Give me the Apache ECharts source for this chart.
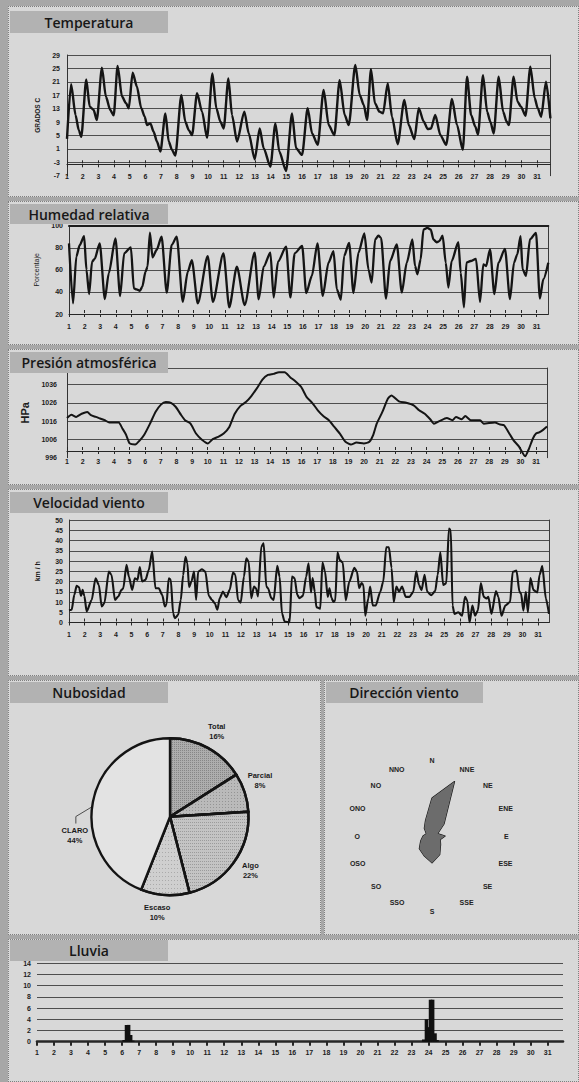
<!DOCTYPE html>
<html><head><meta charset="utf-8"><title>Datos meteorológicos</title>
<script src="https://cdn.jsdelivr.net/npm/echarts@6.0.0/dist/echarts.min.js"></script>
<style>
html,body{margin:0;padding:0;}
body{width:579px;height:1082px;background:#a7a7a7;position:relative;overflow:hidden}
.p{position:absolute;background:#d8d8d8;box-sizing:border-box;border:1px dotted #7f7f7f}
#c{position:absolute;left:0;top:0;width:579px;height:1082px}
</style></head><body>
<div class="p" style="left:8px;top:6px;width:571px;height:191px"></div>
<div class="p" style="left:8px;top:201px;width:571px;height:144px"></div>
<div class="p" style="left:8px;top:349px;width:571px;height:136px"></div>
<div class="p" style="left:8px;top:489px;width:571px;height:187px"></div>
<div class="p" style="left:8px;top:680px;width:313px;height:255px"></div>
<div class="p" style="left:324px;top:680px;width:255px;height:255px"></div>
<div class="p" style="left:8px;top:939px;width:571px;height:143px"></div>
<div id="c"></div>
<script>
// ---------- DATA ----------
const dayTicks = [1,2,3,4,5,6,7,8,9,10,11,12,13,14,15,16,17,18,19,20,21,22,23,24,25,26,27,28,29,30,31];

// Temperatura (ºC) : [día, valor]
const temperatura = [[1.0,4],[1.26,20.3],[1.55,11],[1.75,6.6],[1.91,4.6],[2.23,21.7],[2.45,13.6],[2.7,12.6],[2.9,9.6],
[3.23,25.2],[3.48,16.6],[3.76,12.6],[3.98,11],[4.23,25.7],[4.51,16.6],[4.77,14.6],[4.94,13.1],[5.19,23.7],[5.46,19.6],
[5.74,13.1],[5.96,10.6],[6.1,8.1],[6.32,8.6],[6.53,6.1],[6.74,3.2],[6.96,0.2],[7.28,11.6],[7.49,3.2],[7.7,0.7],[7.91,-1],
[8.3,17.1],[8.55,9.1],[8.77,6.6],[8.98,5.1],[9.3,17.6],[9.62,12.1],[9.94,4.3],[10.28,23.5],[10.53,13.1],[10.79,9.1],
[11.0,7.1],[11.3,22],[11.53,11.1],[11.85,3.2],[12.32,12.1],[12.6,5.6],[12.98,-2.1],[13.3,7.1],[13.55,1.2],[13.98,-4.3],
[14.3,8.6],[14.55,0.2],[14.98,-5.6],[15.36,11.6],[15.62,1.2],[16.0,-0.8],[16.36,13.1],[16.64,5.6],[17.0,2.2],[17.38,18.6],
[17.7,8.1],[18.06,5.1],[18.4,21.5],[18.72,11.1],[18.98,8.1],[19.4,26],[19.68,17.1],[19.94,14.1],[20.15,9.6],[20.4,24.8],
[20.65,14.6],[20.94,12.1],[21.17,11.6],[21.47,20.5],[21.74,10.6],[22.1,2.4],[22.53,15.6],[22.81,8.1],[23.17,3.9],
[23.45,13.1],[23.77,9.1],[24.02,6.9],[24.23,7.1],[24.5,11.1],[24.83,5.1],[25.2,2.2],[25.57,15.9],[25.89,8.1],[26.26,0.7],
[26.53,22.5],[26.79,11.1],[27.06,7.6],[27.23,5.3],[27.55,23],[27.81,12.1],[28.02,9.1],[28.23,5.6],[28.55,22.5],[28.83,12.1],
[29.06,9.1],[29.2,8.1],[29.5,22.5],[29.75,15.1],[29.97,13.6],[30.26,10.9],[30.57,25.5],[30.85,16.1],[31.04,13.1],
[31.26,10.6],[31.57,21],[31.85,10.1]];

// Humedad relativa (%)
const humedad = [[1.0,84],[1.26,29.6],[1.47,72],[1.69,82.5],[1.97,90.6],[2.12,60],[2.29,38],[2.48,67.4],[2.65,70],[2.97,84],
[3.3,33.6],[3.55,56.8],[3.98,88.5],[4.28,36.3],[4.54,75],[4.97,80.4],[5.16,43.2],[5.33,42.3],[5.55,41],[5.7,44.7],[5.91,58.3],
[6.04,62.9],[6.19,93.7],[6.36,71.3],[6.62,78],[6.94,90],[7.27,39.3],[7.59,82.5],[7.91,90],[8.3,31.1],[8.62,58.3],[8.88,68.9],
[9.26,29.6],[9.9,72.5],[10.23,31.1],[10.91,75],[11.28,26],[11.77,62.9],[12.27,28.1],[12.91,75.5],[13.17,33.3],[13.49,62.9],
[13.92,75.5],[14.13,35],[14.41,67.4],[14.93,81],[15.2,35],[15.48,75],[15.96,81.6],[16.22,39],[16.58,54.5],[16.94,84],
[17.28,36.5],[17.65,66.5],[17.97,77],[18.18,42.5],[18.44,33],[18.65,72.5],[18.97,84.5],[19.25,39],[19.57,75.5],[19.95,93],
[20.21,60.5],[20.42,48.5],[20.64,87.5],[20.85,91],[21.02,89],[21.34,34],[21.6,68],[22.03,83],[22.35,39.5],[22.67,66.5],
[23.03,87.5],[23.2,63.5],[23.35,56],[23.56,69.5],[23.74,96.5],[23.99,98],[24.21,96.5],[24.38,87.5],[24.59,85],[24.76,86],
[24.97,91],[25.17,66.5],[25.34,44],[25.55,68],[25.98,85],[26.13,57.5],[26.34,26],[26.5,66.5],[26.77,68],[27.11,70],
[27.37,31],[27.58,65],[27.76,63.5],[28.01,78.5],[28.29,38],[28.55,66.5],[28.97,79],[29.29,33.5],[29.55,66.5],[29.76,74],
[29.97,90.5],[30.1,60.5],[30.32,54.5],[30.57,87.5],[30.96,93.5],[31.21,34],[31.43,51.5],[31.75,66.5]];

// Presión atmosférica (hPa)
const presion = [[1.00,1017.7],[1.28,1019.5],[1.59,1018.3],[1.94,1020],[2.30,1021],[2.53,1019.2],[2.84,1018.3],[3.12,1017.4],
[3.41,1016.5],[3.71,1015.2],[4.30,1015.2],[4.54,1012],[4.77,1008.7],[5.01,1003.8],[5.36,1003.2],[5.67,1005.6],[5.95,1008.7],
[6.31,1014.6],[6.66,1021],[7.01,1025],[7.32,1026.4],[7.65,1026],[7.96,1023.7],[8.31,1019.2],[8.55,1016.5],[8.90,1014.6],
[9.25,1009.2],[9.61,1006],[10.01,1003.8],[10.32,1006.1],[10.67,1007.4],[11.02,1009.2],[11.38,1012.8],[11.73,1020],
[12.08,1024.2],[12.44,1026.4],[12.79,1029.7],[13.15,1034],[13.50,1038.7],[13.85,1041.2],[14.21,1041.8],[14.56,1042.7],
[14.92,1042.7],[15.27,1040],[15.62,1037.6],[15.98,1034.6],[16.33,1029.1],[16.68,1026],[17.04,1021.9],[17.39,1018.8],
[17.75,1016.5],[18.10,1012.8],[18.45,1009.2],[18.81,1004.7],[19.16,1003.2],[19.51,1004.3],[19.99,1003.8],[20.34,1004.7],
[20.58,1008.3],[20.81,1014.6],[21.17,1021],[21.52,1028.2],[21.75,1030],[22.23,1026.8],[22.70,1026],[23.17,1024.6],
[23.52,1021.9],[23.88,1020],[24.23,1017],[24.47,1014.6],[24.82,1016],[25.29,1017.7],[25.65,1016.5],[25.88,1018.3],
[26.24,1017],[26.47,1018.8],[26.83,1016.5],[27.42,1016.5],[27.65,1014.6],[28.36,1015.2],[28.71,1014.1],[28.95,1013.7],
[29.25,1009.8],[29.55,1005.6],[29.9,1002.2],[30.3,996.8],[30.55,1001],[30.8,1006.5],[31.0,1009.2],[31.2,1009.8],
[31.45,1011.2],[31.7,1013]];

// Velocidad viento (km/h)
const viento = [[1.0,6],[1.17,6.2],[1.34,13.5],[1.49,17.9],[1.64,17.2],[1.77,13],[1.87,15.9],[1.98,13],[2.13,5.4],[2.45,11],
[2.7,21.6],[2.91,18.3],[3.09,7.8],[3.26,9.4],[3.55,24.8],[3.72,23.2],[3.94,11],[4.15,12.7],[4.36,15.9],[4.47,16.7],[4.68,28.1],
[4.83,22.4],[5.04,15.9],[5.21,21.6],[5.38,20.8],[5.53,27],[5.68,20],[5.89,20.8],[6.1,25.6],[6.32,34.6],[6.53,16.7],[6.74,16.7],
[6.96,13.5],[7.13,7.8],[7.23,8.6],[7.38,21.6],[7.51,20.8],[7.66,4.5],[7.77,2.1],[7.98,3.7],[8.15,11],[8.3,23.2],[8.45,32.1],
[8.57,28.9],[8.68,17.2],[8.83,20],[9.0,24.8],[9.13,11],[9.26,24.8],[9.51,26],[9.72,24.8],[9.94,13],[10.15,11],[10.32,9.4],
[10.49,6.2],[10.64,11.9],[10.85,15.1],[11.06,12.3],[11.28,15.9],[11.49,24.4],[11.64,23.2],[11.81,11],[11.98,9.7],[12.19,22.4],
[12.34,31.3],[12.49,29.7],[12.66,11.9],[12.83,17.5],[12.96,16.7],[13.09,12.7],[13.3,37],[13.45,38.6],[13.62,17.5],[13.73,16.7],
[13.94,11.9],[14.09,11],[14.32,27.6],[14.47,22.4],[14.62,4.5],[14.79,0.5],[15.11,0],[15.26,22.4],[15.43,21.6],[15.6,13.5],
[15.74,11.9],[15.96,13],[16.17,22.4],[16.32,28.9],[16.48,14.7],[16.58,21.7],[16.72,15],[16.82,7.5],[17.07,6.7],[17.21,29.2],
[17.37,25],[17.55,12.5],[17.66,16.7],[17.79,12],[17.91,10],[18.03,10.8],[18.17,34.2],[18.33,30.3],[18.51,29.2],[18.7,10.8],
[18.93,20],[19.25,26.7],[19.42,24.7],[19.56,16.7],[19.71,19.2],[19.83,18.3],[19.95,3.3],[20.14,11.7],[20.26,17.5],[20.43,8.3],
[20.62,8.3],[20.91,15],[21.1,20],[21.29,36.7],[21.46,36.7],[21.63,26.7],[21.77,10],[21.94,17.5],[22.11,15],[22.3,17.5],
[22.54,12.5],[22.78,12.5],[23.02,15],[23.21,25],[23.39,18.3],[23.55,15.8],[23.74,23.3],[23.91,15],[24.17,13.3],[24.42,15.3],
[24.58,23.3],[24.75,34.2],[24.93,18.3],[25.13,19.2],[25.3,45.8],[25.42,45],[25.53,8.3],[25.65,4.2],[25.9,5],[26.14,3.3],
[26.33,12.5],[26.47,10.8],[26.62,0],[26.8,8.3],[26.97,3.3],[27.15,5.8],[27.34,19.2],[27.53,12.5],[27.7,11.7],[27.82,12.5],
[28.02,4.2],[28.31,15.3],[28.46,12.5],[28.66,3.3],[28.91,8.3],[29.21,10],[29.38,24.7],[29.62,25.3],[29.81,15],[29.91,14.2],
[30.06,5.8],[30.22,15],[30.35,5],[30.51,21.7],[30.71,15.8],[30.95,14.7],[31.1,23.3],[31.27,27.5],[31.5,11.7],[31.7,4.2]];

// Lluvia (mm)
const lluvia = [[6.12,0.3],[6.26,3],[6.38,3],[6.5,1.2],[6.62,0.2],[23.72,0.4],[23.88,4],[24.0,2.6],[24.12,7.5],[24.24,7.5],
[24.38,1.5],[24.5,0.3]];

// Nubosidad (%)
const nubCategorias = ['Total','Parcial','Algo','Escaso','CLARO'];
const nubValores = [16, 8, 22, 10, 44];

// Dirección viento (frecuencia relativa), en orden antihorario desde N
const dirNombres = ['N','NNO','NO','ONO','O','OSO','SO','SSO','S','SSE','SE','ESE','E','ENE','NE','NNE'];
const dirValores = [11.9,5.3,3.4,1.9,2.8,3.8,5.6,6.6,8.4,6.3,3.8,2.8,4.1,1.9,5.3,18.4];

// ---------- STYLE ----------
const F = 'Liberation Sans, Arial, Helvetica, sans-serif';
const INK = '#1c1c1c';
const GL = {color:'#4e4e4e', width:1};
const nubColores = ['#adadad','#bababa','#c4c4c4','#cfcfcf','#e3e3e3'];
const nubDecal = [
  {symbol:'rect', symbolSize:1, dashArrayX:[1,1], dashArrayY:[1,1], color:'rgba(60,60,60,0.35)'},
  {symbol:'rect', symbolSize:1, dashArrayX:[1,2], dashArrayY:[1,2], color:'rgba(60,60,60,0.3)'},
  {symbol:'rect', symbolSize:1, dashArrayX:[1,1], dashArrayY:[1,2], color:'rgba(60,60,60,0.3)'},
  {symbol:'rect', symbolSize:1, dashArrayX:[1,2], dashArrayY:[1,3], color:'rgba(60,60,60,0.25)'},
  null
];
// label angle shifts (degrees) used only to place the slice labels like the printed chart
const nubLabelShift = [0, 4, 2, -4, 22];
const PIE_C = [170, 816.7];
const PIE_R = 78.5;

function lab(m, extra){ return Object.assign({fontFamily:F, fontSize:7, fontWeight:'bold', color:INK, margin:m, formatter: v => String(v)}, extra||{}); }
function xLab(gi, xmax, margin){
  return {type:'value', gridIndex:gi, min:1, max:xmax, interval:1, position:'bottom',
    axisLine:{show:false, onZero:false}, axisTick:{show:false}, splitLine:{show:false},
    axisLabel: lab(margin, {customValues: dayTicks, formatter: v => Number.isInteger(v) ? String(v) : ''})};
}
function xTick(gi, xmax, pos, showLine, lineW, tickLen, tickW){
  return {type:'value', gridIndex:gi, min:1, max:xmax, interval:1, position:pos,
    axisLine:{show:showLine, onZero:false, lineStyle:{color:'#262626', width:lineW}},
    axisTick:{show:true, length:tickLen, customValues: dayTicks, lineStyle:{color:'#262626', width:tickW}},
    axisLabel:{show:false}, splitLine:{show:false}};
}
function yHidden(gi){ return {type:'value', gridIndex:gi, show:false, axisLine:{onZero:false}}; }
function yRight(gi){ return {type:'value', gridIndex:gi, position:'right', axisLine:{show:true, onZero:false, lineStyle:{color:'#3a3a3a', width:1}},
  axisTick:{show:false}, axisLabel:{show:false}, splitLine:{show:false}}; }
function yMain(gi, min, max, interval, margin, name, nameGap, nameStyle, extra){
  return Object.assign({type:'value', gridIndex:gi, min, max, interval,
    axisLine:{show:true, onZero:false, lineStyle:{color:'#333', width:1}}, axisTick:{show:false},
    axisLabel: lab(margin), splitLine:{show:true, showMinLine:false, lineStyle:GL},
    name, nameLocation:'middle', nameRotate:90, nameGap, nameTextStyle:Object.assign({fontFamily:F, color:INK}, nameStyle)}, extra||{});
}
const G = (left, top, width, height) => ({left, top, width, height, containLabel:false, outerBoundsMode:'none'});

const tabs = [
  [10,11,158,22,'Temperatura',89,22],
  [10,204,158,20,'Humedad relativa',89,214],
  [10,352,158,21,'Presión atmosférica',89,362.5],
  [10,492,158,21,'Velocidad viento',89,502.5],
  [10,682,158,21,'Nubosidad',89,692],
  [326,682,157,21,'Dirección viento',404,692],
  [10,940,158,21,'Lluvia',89,950]
];
const graphic = [];
tabs.forEach(t => {
  graphic.push({type:'rect', z:100, shape:{x:t[0], y:t[1], width:t[2], height:t[3]}, style:{fill:'#b2b2b2'}});
  graphic.push({type:'text', z:101, x:t[5], y:t[6], style:{text:t[4], fill:'#171717', font:'600 14px "Open Sans", sans-serif',
    align:'center', verticalAlign:'middle', textAlign:'center', textVerticalAlign:'middle'}});
});

const X_T = 31.85, X_H = 31.75, X_P = 31.7, X_W = 31.7, X_R = 31.9;

function pieMidDeg(i){
  let cum = 0; for (let k=0;k<i;k++) cum += nubValores[k];
  const tot = nubValores.reduce((a,b)=>a+b,0);
  return 90 - (cum + nubValores[i]/2)/tot*360;
}
const D2R = Math.PI/180;

const option = {
  animation:false,
  backgroundColor:'transparent',
  grid:[
    G(67, 55, 483.4, 120.7),     // 0 temp
    G(67, 163.3, 483.4, 1),      // 1 temp axis
    G(69, 225.7, 479.3, 88.3),   // 2 hum
    G(69, 313, 479.3, 1),        // 3 hum axis
    G(67, 368, 480, 89.7),       // 4 pres
    G(67, 450, 480, 1),          // 5 pres axis
    G(69, 520, 480, 102.5),      // 6 wind
    G(69, 621.5, 480, 1),        // 7 wind axis
    G(37, 963.3, 526, 78.4),     // 8 rain
    G(37, 1040.7, 526, 1)        // 9 rain axis
  ],
  xAxis:[
    xLab(0, X_T, -3),                          // 0
    xTick(1, X_T, 'bottom', true, 1.2, 3, 1),  // 1
    xTick(1, X_T, 'top', false, 1, 3, 1),      // 2
    xLab(2, X_H, 8.5),                         // 3
    {type:'value', gridIndex:2, min:1, max:X_H, position:'top', axisLine:{show:true, onZero:false, lineStyle:{color:'#1e1e1e', width:2}},
      axisTick:{show:false}, axisLabel:{show:false}, splitLine:{show:false}}, // 4
    xTick(3, X_H, 'bottom', true, 1.2, 3, 1),  // 5
    xTick(3, X_H, 'top', false, 1, 3, 1),      // 6
    xLab(4, X_P, 0),                           // 7
    xTick(5, X_P, 'bottom', true, 1.2, 3, 1),  // 8
    xTick(5, X_P, 'top', false, 1, 3, 1),      // 9
    xLab(6, X_W, 8),                           // 10
    xTick(7, X_W, 'bottom', true, 1.2, 3, 1),  // 11
    xTick(7, X_W, 'top', false, 1, 3, 1),      // 12
    xLab(8, X_R, 7.5),                         // 13
    xTick(9, X_R, 'bottom', true, 2.6, 4, 2)   // 14
  ],
  yAxis:[
    yMain(0, -7, 29, 4, 7, 'GRADOS C', 21, {fontSize:6.5, fontWeight:'bold'}),   // 0
    yRight(0),                                                                  // 1
    yHidden(1),                                                                 // 2
    yMain(2, 20, 100, 20, 6, 'Porcentaje', 24, {fontSize:7}, {splitLine:{show:true, showMinLine:false, showMaxLine:false, lineStyle:GL}}), // 3
    yRight(2),                                                                  // 4
    yHidden(3),                                                                 // 5
    yMain(4, 996, 1045, 10, 10, 'HPa', 33, {fontSize:11, fontWeight:'bold'}, {axisLabel: lab(10, {showMaxLabel:false})}), // 6
    yRight(4),                                                                  // 7
    yHidden(5),                                                                 // 8
    yMain(6, 0, 50, 5, 6, 'km / h', 28, {fontSize:7, fontWeight:'bold'}),      // 9
    yRight(6),                                                                  // 10
    yHidden(7),                                                                 // 11
    Object.assign(yMain(8, 0, 14, 2, 6, '', 0, {}), {axisLine:{show:false, onZero:false}}), // 12
    yHidden(9)                                                                  // 13
  ],
  radar:{
    center:[432, 836], radius:64, startAngle:90, splitNumber:1, nameGap:8,
    indicator: dirNombres.map(n => ({name:n, max:20, min:0})),
    axisName:{fontFamily:F, fontSize:7, fontWeight:'bold', color:'#222'},
    axisLine:{show:false}, splitLine:{show:false}, splitArea:{show:false}, axisTick:{show:false}, axisLabel:{show:false}
  },
  graphic: graphic,
  series:[
    {type:'line', name:'Temperatura', xAxisIndex:0, yAxisIndex:0, data:temperatura, smooth:0.25, smoothMonotone:'x', showSymbol:false,
      lineStyle:{color:'#141414', width:2.4}, silent:true, z:3},
    {type:'line', name:'Humedad relativa', xAxisIndex:3, yAxisIndex:3, data:humedad, smooth:0.25, smoothMonotone:'x', showSymbol:false,
      lineStyle:{color:'#141414', width:2.3}, silent:true, z:3},
    {type:'line', name:'Presión atmosférica', xAxisIndex:7, yAxisIndex:6, data:presion, smooth:0.2, showSymbol:false,
      lineStyle:{color:'#141414', width:2}, silent:true, z:3},
    {type:'line', name:'Velocidad viento', xAxisIndex:10, yAxisIndex:9, data:viento, smooth:0.25, smoothMonotone:'x', showSymbol:false,
      lineStyle:{color:'#141414', width:2.1}, silent:true, z:3},
    {type:'bar', name:'Lluvia', xAxisIndex:13, yAxisIndex:12, data:lluvia, barWidth:3.6, itemStyle:{color:'#111'}, silent:true, z:3},
    {type:'pie', name:'Nubosidad', center:PIE_C, radius:PIE_R, startAngle:90, clockwise:true, avoidLabelOverlap:false, silent:true,
      data: nubCategorias.map((n,i) => ({name:n, value:nubValores[i],
        itemStyle: nubDecal[i] ? {color:nubColores[i], decal:nubDecal[i]} : {color:nubColores[i]},
        labelLine:{show: n === 'CLARO', lineStyle:{color:'#2a2a2a', width:0.8}}})),
      itemStyle:{borderColor:'#141414', borderWidth:2.4},
      label:{show:true, position:'outside', formatter:'{b}\n{c}%', fontFamily:F, fontSize:7.5, fontWeight:'bold', color:'#1a1a1a', lineHeight:10, align:'center'},
      labelLine:{show:true, length:8, length2:4},
      labelLayout: function(p){
        const i = p.dataIndex;
        const midDeg = pieMidDeg(i);
        const la = (midDeg + nubLabelShift[i]) * D2R;
        const R = 97;
        const lx = PIE_C[0] + R*Math.cos(la), ly = PIE_C[1] - R*Math.sin(la);
        const ea = (midDeg + 3.5) * D2R;
        const ex = PIE_C[0] + PIE_R*Math.cos(ea), ey = PIE_C[1] - PIE_R*Math.sin(ea);
        return {x: lx, y: ly, align:'center', verticalAlign:'middle',
          labelLinePoints: [[ex, ey], [lx + 1, ly - 19], [lx + 1, ly - 12]]};
      }},
    {type:'radar', name:'Dirección viento', silent:true, symbol:'none',
      data:[{value:dirValores, name:'Dirección'}],
      lineStyle:{color:'#141414', width:1.2}, areaStyle:{color:'#6c6c6c', opacity:1}}
  ]
};
const chart = echarts.init(document.getElementById('c'), null, {renderer:'svg', width:579, height:1082});
chart.setOption(option);
</script>
</body></html>
